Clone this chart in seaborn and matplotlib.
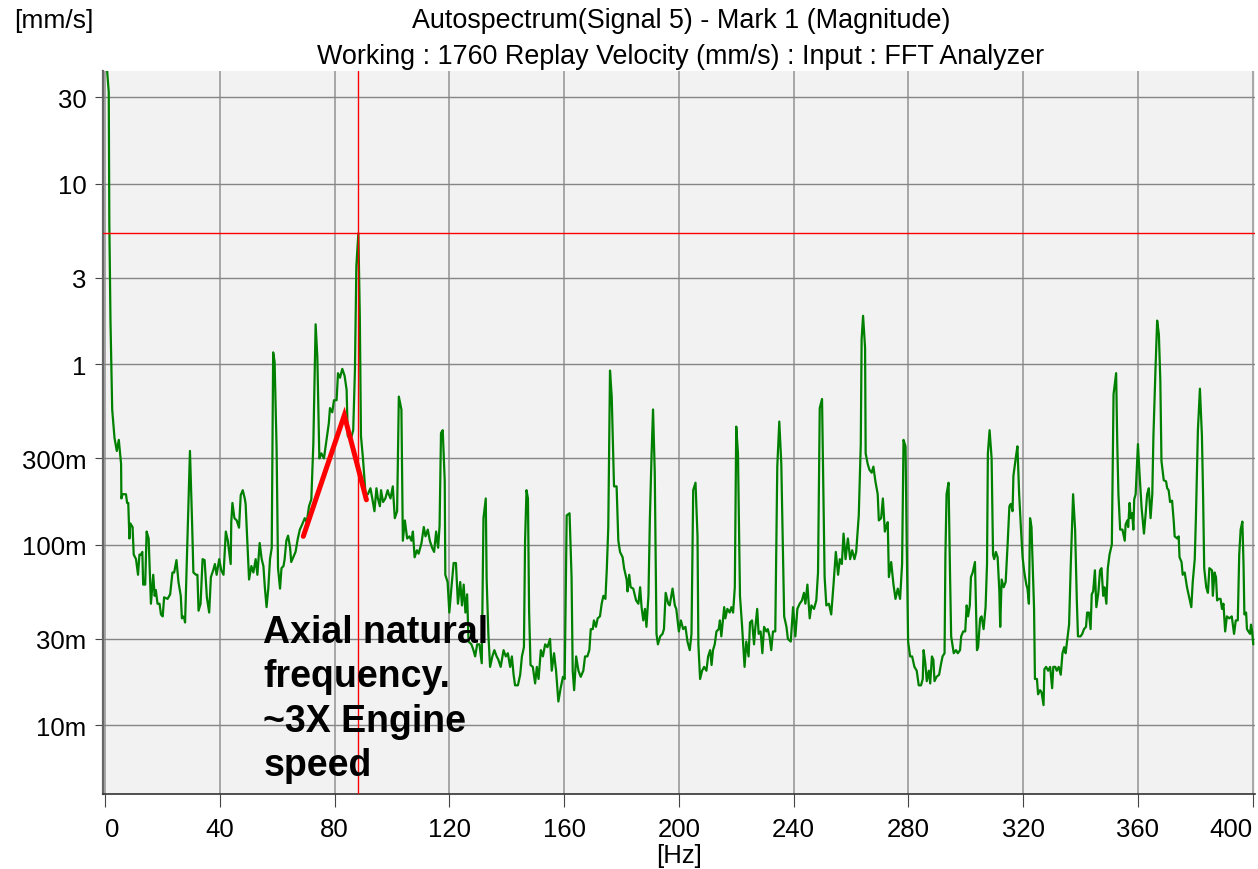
import pandas as pd
import seaborn as sns
import matplotlib.pyplot as plt
from matplotlib.ticker import FixedLocator, FixedFormatter, NullLocator

# spectrum (Hz, mm/s)
freq_hz = [
    0.0, 0.6, 1.3, 1.5, 1.9, 2.5, 3.3, 4.1, 4.8, 5.6, 5.7, 6.1, 7.3, 7.7, 8.1, 8.5, 8.8, 9.6,
    10.0, 10.8, 11.5, 12.0, 12.5, 13.0, 13.3, 14.0, 14.5, 15.2, 16.0, 16.8, 17.3, 17.7, 18.3,
    19.0, 19.5, 20.1, 20.6, 21.8, 22.7, 23.5, 24.1, 24.9, 25.6, 26.4, 26.8, 27.2, 27.6, 27.9,
    29.6, 30.3, 30.8, 31.7, 32.2, 32.6, 33.3, 34.0, 34.7, 35.5, 36.3, 36.9, 37.7, 38.3, 38.9,
    39.8, 40.5, 41.3, 42.1, 42.8, 43.8, 44.0, 44.4, 45.1, 45.9, 46.7, 47.3, 48.0, 48.7,
    49.0, 50.2, 51.0, 51.7, 52.5, 53.1, 53.9, 54.6, 55.2, 55.7, 56.3, 56.9, 57.5, 58.1, 58.6,
    59.1, 59.8, 60.3, 61.0, 61.5, 62.2, 62.6, 63.2, 63.8, 64.5, 64.9, 65.6, 66.4, 67.2, 67.9,
    68.7, 69.6, 70.3, 71.1, 71.9, 72.6, 73.4, 74.0, 74.7, 75.4, 76.3, 77.2, 78.0, 78.4, 79.2,
    79.8, 80.7, 81.2, 81.9, 82.7, 83.5, 84.2, 84.6, 85.6, 86.5, 87.1, 87.6, 88.3, 88.8, 89.2,
    89.9, 90.8, 91.6, 92.5, 93.2, 93.9, 94.6, 95.1, 95.8, 96.2, 96.9, 97.7, 98.5,
    98.9, 99.5, 100.3, 101.0, 101.8, 102.4, 103.3, 103.8, 104.5, 105.3, 106.1, 106.8, 107.3,
    107.9, 108.7, 109.3, 110.3, 111.1, 111.7, 112.5, 113.2, 114.0, 114.7, 115.4, 116.1, 116.6,
    117.1, 117.7, 118.4, 118.6, 119.4, 120.0, 120.7, 121.5, 122.3, 123.0, 123.8, 124.4, 125.0,
    125.6, 126.2, 126.7, 127.7, 128.4, 129.0, 129.7, 130.5, 131.3, 131.9, 132.7, 133.0, 133.6,
    134.2, 135.0, 135.7, 136.5, 137.1, 137.9, 138.9, 139.7, 140.4, 141.2, 141.8, 142.4, 142.9,
    143.9, 144.7, 145.3, 146.0, 146.4, 146.9, 147.4, 147.8, 148.3, 149.1, 149.9,
    150.5, 151.1, 151.9, 152.6, 153.4, 154.2, 155.1, 155.7, 156.5, 157.2, 158.0, 158.8, 159.6,
    160.2, 160.9, 161.9, 162.6, 163.0, 163.5, 164.2, 165.0, 165.8, 166.7, 167.3, 168.1, 168.8,
    169.3, 170.0, 170.4, 171.1, 171.7, 172.5, 173.1, 173.7, 174.4, 174.9, 175.4, 176.0, 176.6,
    177.4, 178.3, 178.9, 179.5, 180.4, 180.9, 181.8, 182.1, 182.7, 183.2, 184.1, 185.1, 185.9,
    186.5, 187.0, 187.6, 188.2, 188.7, 189.4, 189.9, 190.5, 191.0, 191.6, 192.2, 192.7, 193.5,
    194.3, 194.8, 195.4, 196.3, 196.8, 197.8, 198.6, 199.1,
    200.0, 200.7, 201.5, 202.3, 203.0, 203.8, 204.4, 205.0, 205.8, 206.5, 206.8, 207.4, 208.1,
    208.8, 209.6, 210.2, 210.9, 211.4, 211.9, 212.5, 213.1, 213.9, 214.3, 214.8, 215.8, 216.2,
    216.9, 217.7, 218.3, 218.9, 219.5, 220.0, 220.6, 221.3, 222.0, 222.9, 223.5, 224.3, 224.8,
    225.5, 226.2, 226.6, 227.3, 227.8, 228.5, 229.1, 229.7, 230.5, 231.0, 231.6, 232.2, 232.8,
    233.6, 234.3, 235.0, 235.7, 236.7, 237.5, 238.0, 239.0, 239.8, 240.6, 241.3, 242.1, 242.9,
    243.6, 244.1, 244.8, 245.6, 246.2, 247.1, 247.9, 248.5, 249.1, 249.9, 250.5,
    250.8, 251.4, 252.3, 253.1, 253.9, 254.7, 255.5, 256.1, 256.8, 257.4, 258.1, 258.9, 259.7,
    260.4, 261.2, 261.8, 262.7, 263.4, 263.7, 264.2, 264.9, 265.1, 265.8, 266.4, 267.2, 267.8,
    268.5, 269.3, 269.7, 270.5, 271.1, 271.8, 272.2, 272.8, 273.2, 274.0, 274.8, 275.5, 276.3,
    277.1, 277.8, 278.3, 279.0, 279.4, 279.9, 280.6, 281.3, 282.1, 282.9, 283.6, 284.4, 285.0,
    285.3, 285.9, 286.4, 287.1, 287.6, 288.2, 288.7, 289.1, 289.8, 290.7, 291.3, 291.9, 292.6,
    292.9, 293.3, 294.0, 294.5, 294.9, 295.8, 296.6, 297.2, 298.0, 298.4, 299.1, 299.8,
    300.3, 300.8, 301.4, 301.8, 302.4, 303.2, 303.9, 304.3, 305.0, 305.5, 306.2, 306.9, 307.4,
    307.7, 308.3, 309.0, 309.5, 309.9, 310.5, 311.1, 311.7, 312.0, 312.5, 313.2, 313.9, 314.6,
    315.2, 315.7, 316.3, 316.6, 317.4, 318.0, 318.6, 319.2, 319.8, 320.4, 321.1, 321.5, 322.0,
    322.4, 322.9, 323.4, 323.8, 324.1, 324.8, 325.2, 325.9, 326.4, 327.1, 327.4, 328.0, 328.7,
    329.4, 330.1, 330.5, 331.2, 331.7, 332.4, 333.1, 333.7, 334.3, 334.8, 335.4, 336.0, 336.6,
    337.4, 338.1, 338.7, 339.1, 340.0, 340.6, 341.2, 341.9, 342.3, 342.9, 343.5, 343.9, 344.4,
    345.0, 345.5, 346.2, 346.8, 347.3, 347.9, 348.3, 349.0, 349.5, 350.1,
    350.9, 351.5, 352.4, 352.8, 353.2, 353.8, 354.6, 355.4, 355.7, 356.3, 356.6, 357.1, 357.5,
    358.0, 358.4, 358.7, 359.2, 360.0, 360.6, 361.3, 362.1, 362.7, 363.2, 363.8, 364.4, 365.0,
    365.4, 366.1, 366.7, 367.3, 367.8, 368.2, 369.0, 369.8, 370.2, 370.7, 371.2, 371.9, 372.5,
    372.8, 373.7, 374.2, 374.5, 375.2, 375.6, 376.3, 377.1, 378.0, 378.6, 379.1, 379.8, 380.2,
    380.9, 381.6, 382.3, 382.7, 383.1, 383.8, 384.4, 384.9, 385.8, 386.1, 386.7, 387.2, 387.6,
    388.1, 388.8, 389.3, 389.8, 390.4, 391.0, 391.8, 392.7, 393.5, 394.1, 394.8, 395.3, 395.8,
    396.4, 396.8, 397.1, 397.7, 398.0, 398.5, 399.1, 399.4, 399.8, 400.2,
]
mag_mms = [
    80, 45, 32, 6.0, 1.74, 0.56, 0.39, 0.33, 0.38, 0.28, 0.18, 0.19, 0.19, 0.17, 0.17, 0.108, 0.131, 0.125,
    0.088, 0.083, 0.068, 0.088, 0.088, 0.091, 0.060, 0.060, 0.118, 0.108, 0.047, 0.068, 0.052, 0.056, 0.047,
    0.047, 0.041, 0.040, 0.051, 0.050, 0.053, 0.070, 0.070, 0.082, 0.062, 0.052, 0.039, 0.040, 0.039, 0.037,
    0.33, 0.14, 0.070, 0.068, 0.068, 0.043, 0.047, 0.083, 0.082, 0.051, 0.042, 0.066, 0.072, 0.078, 0.068,
    0.083, 0.072, 0.068, 0.118, 0.105, 0.078, 0.133, 0.17, 0.14, 0.136, 0.124, 0.188, 0.20, 0.18,
    0.168, 0.064, 0.076, 0.070, 0.083, 0.068, 0.102, 0.083, 0.076, 0.058, 0.045, 0.057, 0.083, 0.096, 1.16,
    1.03, 0.34, 0.074, 0.057, 0.074, 0.076, 0.083, 0.105, 0.112, 0.096, 0.080, 0.085, 0.091, 0.108, 0.121,
    0.129, 0.14, 0.133, 0.163, 0.178, 0.36, 1.66, 1.09, 0.30, 0.32, 0.30, 0.38, 0.47, 0.57, 0.54,
    0.63, 0.63, 0.89, 0.84, 0.94, 0.86, 0.72, 0.40, 0.38, 0.43, 0.92, 3.5, 5.3, 1.85, 0.40,
    0.30, 0.19, 0.19, 0.205, 0.178, 0.153, 0.205, 0.18, 0.163, 0.20, 0.172, 0.18, 0.20,
    0.19, 0.18, 0.21, 0.14, 0.153, 0.66, 0.56, 0.105, 0.136, 0.108, 0.111, 0.105, 0.118,
    0.085, 0.093, 0.089, 0.102, 0.125, 0.111, 0.121, 0.105, 0.096, 0.091, 0.118, 0.096, 0.127,
    0.415, 0.43, 0.224, 0.068, 0.062, 0.042, 0.057, 0.079, 0.079, 0.047, 0.062, 0.046, 0.060,
    0.042, 0.053, 0.029, 0.028, 0.026, 0.024, 0.028, 0.028, 0.022, 0.14, 0.18, 0.065, 0.032,
    0.021, 0.024, 0.026, 0.024, 0.023, 0.021, 0.026, 0.024, 0.025, 0.021, 0.024, 0.019, 0.0166,
    0.0166, 0.019, 0.024, 0.027, 0.105, 0.20, 0.18, 0.043, 0.0215, 0.021, 0.017,
    0.021, 0.018, 0.026, 0.024, 0.028, 0.027, 0.030, 0.020, 0.025, 0.020, 0.0135, 0.016, 0.0185,
    0.018, 0.145, 0.149, 0.066, 0.020, 0.0156, 0.024, 0.020, 0.0185, 0.020, 0.024, 0.024, 0.026,
    0.034, 0.034, 0.038, 0.035, 0.039, 0.040, 0.047, 0.052, 0.050, 0.074, 0.125, 0.92, 0.66,
    0.21, 0.21, 0.105, 0.091, 0.085, 0.074, 0.064, 0.055, 0.068, 0.058, 0.057, 0.049, 0.047,
    0.058, 0.045, 0.038, 0.044, 0.035, 0.052, 0.14, 0.32, 0.56, 0.25, 0.032, 0.028, 0.031,
    0.032, 0.034, 0.054, 0.047, 0.046, 0.057, 0.046, 0.044,
    0.033, 0.038, 0.034, 0.035, 0.029, 0.026, 0.032, 0.20, 0.22, 0.111, 0.028, 0.018, 0.020,
    0.021, 0.020, 0.024, 0.026, 0.0215, 0.026, 0.028, 0.033, 0.034, 0.038, 0.031, 0.045, 0.039,
    0.044, 0.042, 0.045, 0.042, 0.058, 0.45, 0.32, 0.052, 0.036, 0.021, 0.029, 0.024, 0.037,
    0.038, 0.028, 0.034, 0.044, 0.032, 0.033, 0.025, 0.035, 0.033, 0.034, 0.031, 0.026, 0.033,
    0.033, 0.27, 0.48, 0.28, 0.040, 0.035, 0.030, 0.029, 0.045, 0.031, 0.044, 0.047, 0.049,
    0.054, 0.047, 0.060, 0.039, 0.046, 0.044, 0.049, 0.070, 0.57, 0.64, 0.14,
    0.066, 0.046, 0.047, 0.041, 0.060, 0.091, 0.068, 0.083, 0.078, 0.115, 0.083, 0.108, 0.083,
    0.093, 0.083, 0.091, 0.145, 0.36, 1.38, 1.85, 1.23, 0.32, 0.28, 0.26, 0.25, 0.27,
    0.224, 0.19, 0.136, 0.14, 0.18, 0.118, 0.125, 0.133, 0.066, 0.080, 0.060, 0.050, 0.057,
    0.050, 0.078, 0.38, 0.35, 0.105, 0.029, 0.024, 0.024, 0.021, 0.020, 0.0166, 0.0166, 0.018,
    0.026, 0.022, 0.0175, 0.020, 0.017, 0.024, 0.023, 0.0175, 0.0185, 0.019, 0.0215, 0.024, 0.025,
    0.088, 0.19, 0.22, 0.070, 0.031, 0.025, 0.026, 0.025, 0.026, 0.031, 0.033, 0.033,
    0.046, 0.040, 0.046, 0.066, 0.070, 0.080, 0.026, 0.027, 0.039, 0.040, 0.034, 0.045, 0.078,
    0.32, 0.43, 0.30, 0.088, 0.083, 0.091, 0.085, 0.055, 0.035, 0.064, 0.058, 0.062, 0.102,
    0.163, 0.168, 0.153, 0.24, 0.30, 0.35, 0.19, 0.125, 0.085, 0.070, 0.060, 0.057, 0.047,
    0.14, 0.125, 0.070, 0.044, 0.018, 0.018, 0.0148, 0.0156, 0.0152, 0.0129, 0.0204, 0.021, 0.020,
    0.021, 0.016, 0.021, 0.021, 0.020, 0.021, 0.019, 0.025, 0.027, 0.025, 0.030, 0.036, 0.078,
    0.19, 0.121, 0.049, 0.031, 0.031, 0.032, 0.034, 0.035, 0.042, 0.042, 0.034, 0.053, 0.055,
    0.072, 0.045, 0.054, 0.072, 0.074, 0.052, 0.058, 0.047, 0.074, 0.088,
    0.10, 0.68, 0.89, 0.36, 0.19, 0.121, 0.121, 0.105, 0.129, 0.136, 0.125, 0.17, 0.14,
    0.149, 0.121, 0.178, 0.19, 0.36, 0.24, 0.158, 0.115, 0.149, 0.19, 0.205, 0.14, 0.19,
    0.40, 0.92, 1.74, 1.46, 0.81, 0.29, 0.227, 0.224, 0.205, 0.20, 0.172, 0.175, 0.133,
    0.111, 0.108, 0.111, 0.085, 0.080, 0.068, 0.070, 0.058, 0.050, 0.045, 0.062, 0.083, 0.14,
    0.43, 0.73, 0.40, 0.19, 0.074, 0.058, 0.054, 0.074, 0.072, 0.052, 0.070, 0.066, 0.049,
    0.050, 0.050, 0.044, 0.047, 0.033, 0.040, 0.039, 0.040, 0.032, 0.038, 0.038, 0.088, 0.121,
    0.134, 0.078, 0.041, 0.042, 0.034, 0.033, 0.032, 0.036, 0.033, 0.028,
]

# cursor (Mark 1)
mark_freq = 88.3
mark_mag = 5.3

# hand drawn red marker around the axial natural frequency
note_freq = [69.1, 83.4, 91.1]
note_mag = [0.111, 0.52, 0.177]
note_text = "Axial natural\nfrequency.\n~3X Engine\nspeed"

x_ticks = [0, 40, 80, 120, 160, 200, 240, 280, 320, 360, 400]
y_ticks = [30, 10, 3, 1, 0.3, 0.1, 0.03, 0.01]
y_tick_labels = ["30", "10", "3", "1", "300m", "100m", "30m", "10m"]

sns.set_style("white")
plt.rcParams['font.family'] = ['Liberation Sans', 'DejaVu Sans']
plt.rcParams.update({"text.color": "black", "axes.labelcolor": "black"})

fig = plt.figure(figsize=(12.58, 8.70), dpi=100)
ax = fig.add_axes([103.3 / 1258, 75 / 870, 1151.7 / 1258, 723 / 870])
ax.set_facecolor("#f2f2f2")

data = pd.DataFrame({"Frequency": freq_hz, "Magnitude": mag_mms})
sns.lineplot(data=data, x="Frequency", y="Magnitude", color="#008000", linewidth=1.6,
             estimator=None, sort=False, ax=ax, zorder=3)

ax.set_yscale("log")
ax.set_xlim(-0.6, 400.8)
ax.set_ylim(0.00415, 42)

ax.xaxis.set_major_locator(FixedLocator(x_ticks))
ax.yaxis.set_major_locator(FixedLocator(y_ticks))
ax.yaxis.set_major_formatter(FixedFormatter(y_tick_labels))
ax.yaxis.set_minor_locator(NullLocator())
ax.xaxis.set_minor_locator(NullLocator())

ax.set_axisbelow(True)
ax.grid(True, axis="x", color="#a6a6a6", linewidth=1.4)
ax.grid(True, axis="y", color="#858585", linewidth=1.0)

ax.axhline(mark_mag, color="#ff0000", linewidth=1.0, zorder=4)
ax.axvline(mark_freq, color="#ff0000", linewidth=1.0, zorder=4)

ax.plot(note_freq, note_mag, color="#ff0000", linewidth=3.6, solid_joinstyle="miter", zorder=5)
ax.text(0.139, 0.249, note_text, transform=ax.transAxes, fontsize=27, fontweight="bold",
        va="top", ha="left", linespacing=1.3, color="black", zorder=6)

for side in ["top", "right"]:
    ax.spines[side].set_visible(False)
ax.spines["left"].set_color("#666666")
ax.spines["left"].set_linewidth(1.6)
ax.spines["bottom"].set_color("#333333")
ax.spines["bottom"].set_linewidth(1.2)

ax.tick_params(axis="x", direction="out", length=9.4, width=0.8, color="#444444", pad=7.5,
               labelsize=18.5, labelcolor="black", bottom=True)
ax.tick_params(axis="y", direction="out", length=6, width=0.8, color="#444444", pad=6,
               labelsize=18.5, labelcolor="black", left=True)

ax.set_xlabel("[Hz]", fontsize=18.5, labelpad=1)
ax.set_ylabel("")

# first and last x labels sit inside the plot edges, as in the analyzer export
fig.canvas.draw()
xlabels = ax.get_xticklabels()
xlabels[0].set_horizontalalignment("left")
xlabels[-1].set_horizontalalignment("right")

fig.text(14 / 1258, 1 - 21 / 870, "[mm/s]", fontsize=19, ha="left", va="center")
fig.text(681 / 1258, 1 - 21 / 870, "Autospectrum(Signal 5) - Mark 1 (Magnitude)",
         fontsize=19.4, ha="center", va="center")
fig.text(681 / 1258, 1 - 57 / 870, "Working : 1760 Replay Velocity (mm/s) : Input : FFT Analyzer",
         fontsize=19.4, ha="center", va="center")

fig.savefig("out.png", dpi=100)
